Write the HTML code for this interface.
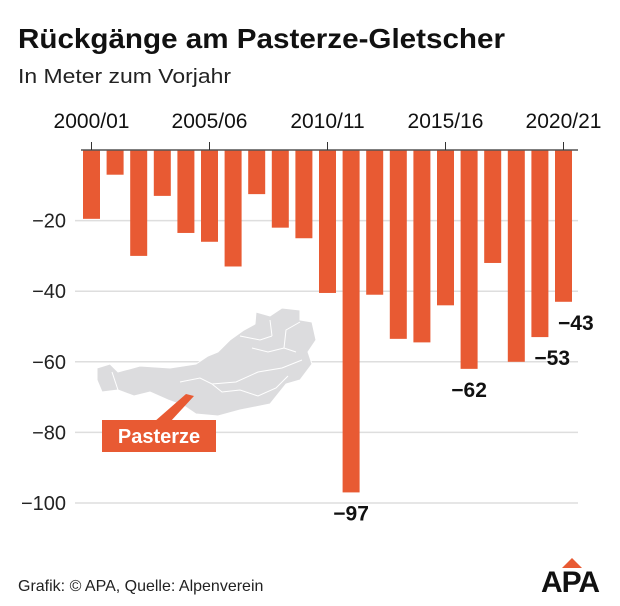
<!DOCTYPE html>
<html><head><meta charset="utf-8"><style>
body{margin:0;background:#fff;font-family:"Liberation Sans",Arial,sans-serif;}
#wrap{position:relative;width:620px;height:606px;overflow:hidden;}
</style></head><body>
<div id="wrap">
<svg id="chart" width="620" height="606" xmlns="http://www.w3.org/2000/svg">
<text x="18" y="48" font-size="28" font-weight="bold" fill="#111" textLength="487" lengthAdjust="spacingAndGlyphs">Rückgänge am Pasterze-Gletscher</text>
<text x="18" y="83" font-size="20" fill="#222" textLength="213" lengthAdjust="spacingAndGlyphs">In Meter zum Vorjahr</text>
<g id="grid"></g>
<g id="map">
<path d="M97,368 L110,364 L118,372 L140,366 L170,368 L196,364 L208,356 L218,352 L230,340 L244,330 L255,324 L256,312 L270,316 L282,308 L300,310 L300,320 L312,322 L316,340 L308,352 L312,364 L300,380 L286,384 L270,404 L240,410 L218,416 L196,414 L184,406 L168,400 L150,392 L134,396 L118,390 L102,392 L97,380 Z" fill="#dcdcde" stroke="#fff" stroke-width="1"/>
<path d="M112,372 L118,390 M180,382 L200,378 L212,384 L236,382 L258,372 L282,368 L302,360 M212,384 L222,392 L240,390 L258,396 L276,388 L288,376 M240,336 L260,340 L272,336 M252,348 L268,352 L284,348 L296,352 M284,348 L286,330 L300,322 M272,336 L270,320" fill="none" stroke="#fff" stroke-width="1"/>
</g>
<polygon points="186,394 194,396 170,422 154,422" fill="#e85a33"/>
<rect x="102" y="420" width="114" height="32" fill="#e85a33"/>
<text x="159" y="443" font-size="20" font-weight="bold" fill="#fff" text-anchor="middle">Pasterze</text>
<g id="bars"></g>
<line x1="81" y1="150" x2="578" y2="150" stroke="#555" stroke-width="1.5"/>
<g id="xlabels"></g>
<g id="vlabels"></g>
<text x="18" y="591" font-size="16" fill="#222">Grafik: © APA, Quelle: Alpenverein</text>
<g>
<polygon points="562,568 582,568 572,558" fill="#e85a33"/>
<text x="570" y="592" font-size="30" font-weight="bold" fill="#111" text-anchor="middle" letter-spacing="-1">APA</text>
</g>
</svg>
</div>
<script>
const seasons=["2000/01","2001/02","2002/03","2003/04","2004/05","2005/06","2006/07","2007/08","2008/09","2009/10","2010/11","2011/12","2012/13","2013/14","2014/15","2015/16","2016/17","2017/18","2018/19","2019/20","2020/21"];
const values=[-19.5,-7,-30,-13,-23.5,-26,-33,-12.5,-22,-25,-40.5,-97,-41,-53.5,-54.5,-44,-62,-32,-60,-53,-43];
const yTicks=[-20,-40,-60,-80,-100];
const xTickLabels=["2000/01","2005/06","2010/11","2015/16","2020/21"];
const labeledValues=[{i:11,t:"−97"},{i:16,t:"−62"},{i:19,t:"−53"},{i:20,t:"−43"}];
const NS="http://www.w3.org/2000/svg";
const y0=150,pxPer=3.53,x0=91.5,step=23.6,bw=17;
const yS=v=>y0-v*pxPer;
const xS=i=>x0+i*step;
function mk(tag,attrs,parent){const e=document.createElementNS(NS,tag);for(const k in attrs)e.setAttribute(k,attrs[k]);parent.appendChild(e);return e;}
const grid=document.getElementById('grid');
yTicks.forEach(v=>{
 const l=mk('line',{x1:75,x2:578,y1:yS(v),y2:yS(v),stroke:'#dedede','stroke-width':1.5},grid);
 
 
 const t=mk('text',{x:66,y:yS(v)+7,'font-size':20,fill:'#222','text-anchor':'end'},grid);
 t.textContent="−"+Math.abs(v);
 
 
});
const bars=document.getElementById('bars');
values.forEach((v,i)=>{
 const r=mk('rect',{x:xS(i)-bw/2,y:y0,width:bw,height:yS(v)-y0,fill:'#e85a33'},bars);
 
 
});
const xl=document.getElementById('xlabels');
xTickLabels.forEach(s=>{
 const i=seasons.indexOf(s);
 const l=mk('line',{x1:xS(i),x2:xS(i),y1:142,y2:150,stroke:'#333','stroke-width':1},xl);
 
 
 const t=mk('text',{x:xS(i),y:128,'font-size':21,fill:'#111','text-anchor':'middle'},xl);
 t.textContent=s;
 
 
});
const vl=document.getElementById('vlabels');
labeledValues.forEach(o=>{
 const v=values[o.i];let x=xS(o.i),y=yS(v)+28,anchor='middle';
 if(o.i>=19){x=xS(o.i)-bw/2+3;anchor='start';}
 const t=mk('text',{x:x,y:y,'font-size':21,'font-weight':'bold',fill:'#111','text-anchor':anchor},vl);
 t.textContent=o.t;
 
 
});
</script>
</body></html>
